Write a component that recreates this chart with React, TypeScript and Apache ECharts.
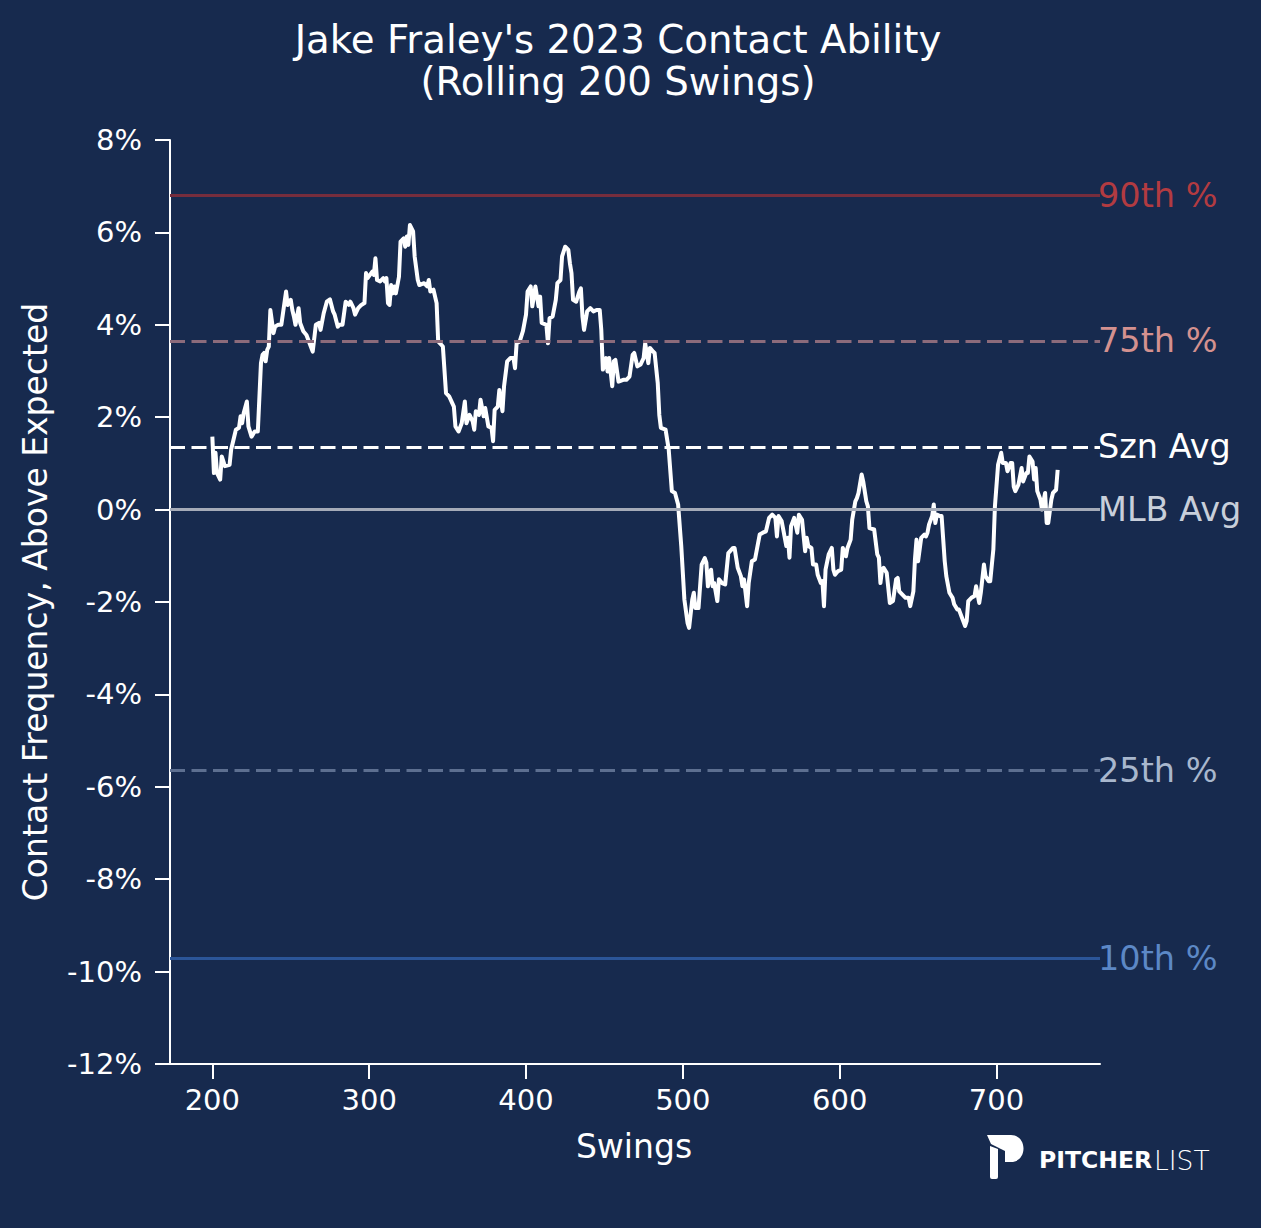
import React, { useEffect, useRef } from "react";
import * as echarts from "echarts";

const SWINGS = [
  200, 201, 202, 203, 205, 206, 208, 211, 212, 215, 217, 218, 219, 220, 222, 223, 225, 227, 229, 231,
  232, 233, 234, 235, 236, 237, 239, 240, 242, 244, 247, 248, 250, 251, 252, 253, 255, 256, 258, 260,
  262, 264, 266, 268, 269, 271, 273, 275, 277, 278, 280, 281, 283, 285, 287, 288, 290, 291, 293, 295,
  297, 298, 299, 302, 303, 304, 305, 307, 309, 310, 311, 312, 313, 314, 315, 316, 317, 319, 320, 322,
  323, 324, 325, 326, 328, 329, 331, 332, 335, 337, 338, 339, 341, 343, 344, 347, 349, 351, 354, 355,
  357, 359, 361, 362, 364, 366, 367, 368, 370, 371, 373, 374, 376, 378, 379, 380, 382, 383, 385, 386,
  388, 390, 392, 393, 394, 396, 398, 400, 401, 403, 404, 406, 408, 409, 410, 413, 414, 415, 417, 419,
  420, 422, 423, 425, 427, 428, 429, 430, 432, 434, 435, 436, 437, 439, 441, 443, 445, 447, 448, 449,
  451, 452, 453, 455, 456, 457, 459, 462, 464, 466, 468, 469, 471, 473, 475, 476, 478, 479, 481, 482,
  484, 485, 486, 489, 491, 493, 495, 497, 499, 501, 503, 504, 506, 507, 508, 510, 512, 514, 515, 516,
  518, 519, 520, 522, 523, 525, 527, 529, 532, 533, 535, 537, 538, 539, 541, 542, 544, 546, 549, 551,
  553, 555, 557, 559, 560, 561, 563, 564, 566, 567, 568, 569, 571, 573, 574, 576, 578, 579, 580, 582,
  583, 585, 586, 588, 589, 590, 591, 593, 595, 596, 597, 599, 601, 602, 604, 605, 607, 608, 610, 611,
  612, 614, 615, 617, 618, 619, 622, 624, 625, 626, 627, 628, 630, 631, 632, 634, 636, 637, 638, 640,
  642, 644, 645, 647, 648, 649, 650, 652, 654, 655, 656, 657, 659, 660, 661, 662, 664, 665, 667, 668,
  670, 672, 673, 675, 676, 678, 680, 681, 682, 684, 686, 687, 689, 690, 692, 693, 695, 696, 698, 699,
  701, 703, 704, 706, 707, 709, 710, 711, 712, 714, 716, 717, 719, 720, 721, 723, 724, 725, 726, 728,
  729, 731, 732, 733, 735, 736, 738, 739,
];

const CONTACT = [
  1.58, 0.79, 1.23, 0.79, 0.65, 1.15, 0.94, 0.97, 1.30, 1.73, 1.77, 2.02, 1.87, 2.09, 2.34, 1.80, 1.58, 1.69, 1.69, 3.17,
  3.35, 3.39, 3.21, 3.46, 3.53, 4.32, 3.82, 3.96, 4.00, 4.00, 4.72, 4.43, 4.54, 4.32, 4.18, 4.00, 4.36, 4.04, 3.86, 3.78,
  3.60, 3.42, 4.00, 4.04, 3.89, 4.25, 4.50, 4.55, 4.29, 4.22, 3.96, 4.00, 4.00, 4.50, 4.43, 4.50, 4.36, 4.22, 4.36, 4.43,
  4.47, 5.12, 5.01, 5.15, 5.08, 5.44, 4.97, 4.94, 5.01, 4.94, 5.01, 4.47, 4.43, 4.86, 4.68, 4.83, 4.68, 5.04, 5.80, 5.87,
  5.69, 5.91, 5.73, 6.16, 6.02, 5.48, 4.97, 4.86, 4.90, 4.83, 4.97, 4.72, 4.76, 4.47, 3.64, 3.53, 2.52, 2.45, 2.23, 1.80,
  1.69, 1.87, 2.34, 1.87, 2.05, 1.91, 1.73, 2.13, 2.05, 2.38, 2.02, 2.20, 1.80, 1.77, 1.48, 2.16, 2.23, 2.59, 2.13, 2.67,
  3.21, 3.28, 3.28, 3.06, 3.60, 3.64, 3.86, 4.22, 4.72, 4.83, 4.40, 4.83, 4.40, 4.61, 4.04, 4.00, 3.60, 4.14, 4.18, 4.54,
  4.90, 4.97, 5.48, 5.69, 5.62, 5.33, 5.12, 4.54, 4.50, 4.72, 4.79, 4.18, 3.89, 4.29, 4.36, 4.29, 4.32, 4.32, 3.89, 3.03,
  3.28, 2.99, 3.28, 2.67, 3.21, 3.24, 2.77, 2.81, 2.81, 2.88, 3.35, 3.39, 3.10, 3.14, 3.28, 3.60, 3.17, 3.50, 3.42, 3.39,
  2.74, 2.05, 1.77, 1.73, 1.30, 0.40, 0.36, 0.11, -0.79, -1.95, -2.45, -2.56, -1.95, -1.80, -2.13, -2.13, -1.19, -1.05, -1.15, -1.66,
  -1.30, -1.66, -1.59, -1.98, -1.51, -1.59, -1.62, -0.94, -0.83, -0.83, -1.26, -1.44, -1.66, -1.51, -2.09, -1.59, -1.12, -1.08, -0.54, -0.50,
  -0.47, -0.18, -0.11, -0.18, -0.58, -0.14, -0.25, -0.43, -0.79, -0.61, -1.04, -0.36, -0.18, -0.50, -0.11, -0.22, -0.90, -0.61, -0.79, -0.83,
  -1.19, -1.19, -1.41, -1.59, -1.55, -2.09, -1.30, -0.97, -0.83, -1.30, -1.41, -1.33, -1.30, -0.83, -1.01, -0.83, -0.65, -0.22, 0.18, 0.25,
  0.36, 0.76, 0.61, 0.18, 0.07, -0.40, -0.43, -0.97, -1.04, -1.59, -1.30, -1.26, -1.37, -1.69, -2.02, -1.98, -1.51, -1.48, -1.77, -1.84,
  -1.91, -1.91, -2.09, -1.77, -1.08, -0.65, -1.12, -0.61, -0.54, -0.58, -0.50, -0.32, -0.14, 0.11, -0.29, -0.11, -0.14, -0.14, -1.12, -1.44,
  -1.80, -1.91, -2.05, -2.16, -2.16, -2.34, -2.52, -2.41, -1.98, -1.91, -1.87, -1.66, -2.02, -1.80, -1.19, -1.44, -1.55, -1.55, -0.86, 0.07,
  0.97, 1.23, 1.01, 1.01, 0.83, 1.01, 1.01, 0.50, 0.40, 0.54, 0.90, 0.61, 0.79, 0.79, 1.15, 1.04, 0.65, 0.90, 0.40, 0.22,
  0.00, 0.36, -0.29, -0.29, 0.22, 0.36, 0.43, 0.86,
];

const X_TICKS = [200, 300, 400, 500, 600, 700];
const Y_TICKS = [-12, -10, -8, -6, -4, -2, 0, 2, 4, 6, 8];

const REF_NAMES = ["90th %", "75th %", "Szn Avg", "MLB Avg", "25th %", "10th %"];
const REF_VALUES = [6.8, 3.65, 1.36, 0, -5.64, -9.72];

const TITLE_LINES = ["Jake Fraley's 2023 Contact Ability", "(Rolling 200 Swings)"];
const X_NAME = "Swings";
const Y_NAME = "Contact Frequency, Above Expected";
const BRAND = ["PITCHER", "LIST"];

const REF_STYLE = [
  { line: "#762d3d", text: "#b23b41", dashed: false },
  { line: "#8c6b7b", text: "#d4918f", dashed: true },
  { line: "#ffffff", text: "#ffffff", dashed: true },
  { line: "#a5abb8", text: "#c8cfda", dashed: false },
  { line: "#5d6f90", text: "#a8b7cd", dashed: true },
  { line: "#2b5598", text: "#5c88c6", dashed: false },
];

const BG = "#172a4e";
const FONT = "DejaVu Sans";

const LOGO_D =
  "M0 0 L24 0 C31.5 0 36.5 6 36.5 13.5 C36.5 21 31.5 27 24 27 L18 27 L18 16 L4 9 Z " +
  "M3 11 L11 14 L11 42 Q11 44 9 44 L5 44 Q3 44 3 42 Z";

let logoRegistered = false;
function ensureLogo() {
  if (logoRegistered) return;
  echarts.graphic.registerShape("plLogo", echarts.graphic.extendPath(LOGO_D, {}));
  logoRegistered = true;
}

export default function App() {
  const ref = useRef<HTMLDivElement>(null);

  useEffect(() => {
    if (!ref.current) return;
    ensureLogo();
    const chart = echarts.init(ref.current, undefined, { renderer: "svg" });

    const lineData = SWINGS.map((s, i) => [s, CONTACT[i]]);

    const option: any = {
      animation: false,
      backgroundColor: BG,
      grid: {
        left: 170,
        right: 161,
        top: 140,
        bottom: 164,
        containLabel: false,
        outerBoundsMode: "none",
      },
      xAxis: {
        type: "value",
        min: 173,
        max: 766,
        axisLine: { show: true, onZero: false, lineStyle: { color: "#ffffff", width: 2 } },
        axisTick: { show: true, length: 15, lineStyle: { color: "#ffffff", width: 2 }, customValues: X_TICKS },
        axisLabel: {
          customValues: X_TICKS,
          color: "#ffffff",
          fontSize: 29,
          fontFamily: FONT,
          margin: 21,
        },
        splitLine: { show: false },
      },
      yAxis: {
        type: "value",
        min: -12,
        max: 8,
        interval: 2,
        axisLine: { show: true, onZero: false, lineStyle: { color: "#ffffff", width: 2 } },
        axisTick: { show: true, length: 15, lineStyle: { color: "#ffffff", width: 2 }, customValues: Y_TICKS },
        axisLabel: {
          customValues: Y_TICKS,
          formatter: (v: number) => `${v}%`,
          color: "#ffffff",
          fontSize: 29,
          fontFamily: FONT,
          margin: 28,
        },
        splitLine: { show: false },
      },
      series: [
        {
          type: "line",
          data: [],
          z: 1,
          silent: true,
          markLine: {
            symbol: "none",
            silent: true,
            data: REF_VALUES.map((v, i) => ({
              yAxis: v,
              lineStyle: {
                color: REF_STYLE[i].line,
                width: 3,
                type: REF_STYLE[i].dashed ? [15, 6.5] : "solid",
              },
              label: {
                show: true,
                position: "end",
                formatter: REF_NAMES[i],
                color: REF_STYLE[i].text,
                fontSize: 33.5,
                fontFamily: FONT,
                distance: -2,
              },
            })),
          },
        },
        {
          type: "line",
          data: lineData,
          z: 3,
          showSymbol: false,
          symbol: "none",
          lineStyle: { color: "#ffffff", width: 4, join: "round" },
        },
      ],
      graphic: [
        {
          type: "text",
          x: 618,
          y: 39,
          style: {
            text: TITLE_LINES[0],
            fill: "#ffffff",
            fontSize: 38.7,
            fontFamily: FONT,
            textAlign: "center",
            textVerticalAlign: "middle",
          },
        },
        {
          type: "text",
          x: 618,
          y: 81,
          style: {
            text: TITLE_LINES[1],
            fill: "#ffffff",
            fontSize: 38.7,
            fontFamily: FONT,
            textAlign: "center",
            textVerticalAlign: "middle",
          },
        },
        {
          type: "text",
          x: 634,
          y: 1146,
          style: {
            text: X_NAME,
            fill: "#ffffff",
            fontSize: 33,
            fontFamily: FONT,
            textAlign: "center",
            textVerticalAlign: "middle",
          },
        },
        {
          type: "text",
          x: 35,
          y: 602,
          rotation: Math.PI / 2,
          style: {
            text: Y_NAME,
            fill: "#ffffff",
            fontSize: 33,
            fontFamily: FONT,
            textAlign: "center",
            textVerticalAlign: "middle",
          },
        },
        {
          type: "plLogo",
          x: 987,
          y: 1135,
          style: { fill: "#ffffff" },
        },
        {
          type: "text",
          x: 1039,
          y: 1160,
          style: {
            text: BRAND[0],
            fill: "#ffffff",
            fontSize: 23.5,
            fontWeight: "bold",
            fontFamily: FONT,
            textAlign: "left",
            textVerticalAlign: "middle",
          },
        },
        {
          type: "text",
          x: 1154,
          y: 1160,
          style: {
            text: BRAND[1],
            fill: "#ffffff",
            fontSize: 26.5,
            fontWeight: 200,
            fontFamily: FONT,
            textAlign: "left",
            textVerticalAlign: "middle",
          },
        },
      ],
    };

    chart.setOption(option);
    return () => chart.dispose();
  }, []);

  return (
    <div
      ref={ref}
      style={{ position: "absolute", left: 0, top: 0, width: 1261, height: 1228 }}
    />
  );
}
